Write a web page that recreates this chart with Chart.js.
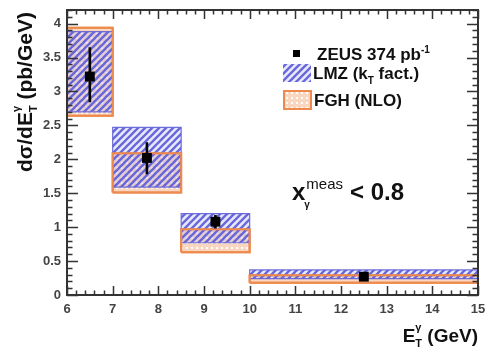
<!DOCTYPE html>
<html>
<head>
<meta charset="utf-8">
<script src="https://cdn.jsdelivr.net/npm/chart.js@4/dist/chart.umd.min.js"></script>
<style>
  html, body { margin: 0; padding: 0; background: #ffffff; }
  #wrap { width: 487px; height: 350px; }
</style>
</head>
<body>
<div id="wrap"><canvas id="c" width="487" height="350"></canvas></div>
<script>
// E_T^gamma bins (GeV)
const binLo = [6, 7, 8.5, 10];
const binHi = [7, 8.5, 10, 15];

// ZEUS measurement: bin centre, value and total error band (pb/GeV)
const zeusX = [6.5, 7.75, 9.25, 12.5];
const zeusY = [3.22, 2.02, 1.08, 0.27];
const zeusErrLo = [2.84, 1.78, 0.98, 0.24];
const zeusErrHi = [3.65, 2.25, 1.18, 0.30];

// LMZ (kT factorisation) prediction band
const lmzLo = [2.70, 1.59, 0.77, 0.24];
const lmzHi = [3.88, 2.47, 1.20, 0.37];

// FGH (NLO) prediction band
const fghLo = [2.64, 1.51, 0.63, 0.18];
const fghHi = [3.94, 2.09, 0.97, 0.29];

// Axis tick labels
const xTicks = [6, 7, 8, 9, 10, 11, 12, 13, 14, 15];
const yTicks = [0, 0.5, 1, 1.5, 2, 2.5, 3, 3.5, 4];
const xMinorStep = 0.2;
const yMinorStep = 0.1;

const FONT = '"Liberation Sans", Arial, Helvetica, sans-serif';
const ORANGE = '#ee8a4e';
const BLUE = 'rgba(92, 92, 216, 0.92)';

// Hatch pattern for the LMZ band: blue "////" stripes on a faint lavender tint
function makeHatch() {
  const s = 7;
  const c = document.createElement('canvas');
  c.width = s; c.height = s;
  const g = c.getContext('2d');
  g.fillStyle = 'rgba(180, 180, 245, 0.30)';
  g.fillRect(0, 0, s, s);
  g.strokeStyle = BLUE;
  g.lineWidth = 2.3;
  g.lineCap = 'square';
  g.beginPath();
  g.moveTo(-1, s + 1); g.lineTo(s + 1, -1);
  g.moveTo(-1, 1); g.lineTo(1, -1);
  g.moveTo(s - 1, s + 1); g.lineTo(s + 1, s - 1);
  g.stroke();
  return g.createPattern(c, 'repeat');
}

// Dotted pattern for the FGH band: white dots on peach
function makeDots() {
  const s = 5;
  const c = document.createElement('canvas');
  c.width = s; c.height = s;
  const g = c.getContext('2d');
  g.fillStyle = '#f8d6c0';
  g.fillRect(0, 0, s, s);
  g.fillStyle = 'rgba(255, 255, 255, 0.95)';
  g.fillRect(1, 2, 2, 2);
  return g.createPattern(c, 'repeat');
}

const hatch = makeHatch();
const dots = makeDots();

function boxPoints(i, lo, hi) {
  return [
    { x: binLo[i], y: lo[i] },
    { x: binHi[i], y: lo[i] },
    { x: binHi[i], y: hi[i] },
    { x: binLo[i], y: hi[i] },
    { x: binLo[i], y: lo[i] }
  ];
}

const datasets = [];
binLo.forEach((_, i) => {
  // FGH band fill
  datasets.push({
    type: 'line', data: boxPoints(i, fghLo, fghHi), order: 5,
    showLine: true, fill: 'shape', backgroundColor: dots,
    borderColor: ORANGE, borderWidth: 2, pointRadius: 0, tension: 0
  });
  // LMZ hatched band
  datasets.push({
    type: 'line', data: boxPoints(i, lmzLo, lmzHi), order: 4,
    showLine: true, fill: 'shape', backgroundColor: hatch,
    borderColor: 'rgba(96, 96, 214, 0.9)', borderWidth: 1.2, pointRadius: 0, tension: 0
  });
  // FGH outline on top of the hatch
  datasets.push({
    type: 'line', data: boxPoints(i, fghLo, fghHi), order: 3,
    showLine: true, fill: false,
    borderColor: ORANGE, borderWidth: 2, pointRadius: 0, tension: 0
  });
});

// Vertical error bars, one segment per point, separated by gaps
const errData = [];
zeusX.forEach((x, i) => {
  errData.push({ x: x, y: zeusErrLo[i] }, { x: x, y: zeusErrHi[i] }, { x: x, y: null });
});
datasets.push({
  type: 'line', data: errData, order: 2, showLine: true, spanGaps: false,
  fill: false, borderColor: '#000', borderWidth: 2.6, pointRadius: 0
});

// ZEUS points
datasets.push({
  type: 'scatter', data: zeusX.map((x, i) => ({ x: x, y: zeusY[i] })), order: 1,
  pointStyle: 'rect', pointRadius: 7, pointBackgroundColor: '#000',
  pointBorderWidth: 0, showLine: false
});

// Draws a run of text pieces; returns x after the last piece
function runs(ctx, x, y, pieces) {
  pieces.forEach(p => {
    ctx.font = p.font;
    ctx.fillText(p.text, x, y + (p.dy || 0));
    x += ctx.measureText(p.text).width;
  });
  return x;
}
function widthOf(ctx, text, font) { ctx.font = font; return ctx.measureText(text).width; }

const decorations = {
  id: 'decorations',
  afterDraw(chart) {
    const ctx = chart.ctx;
    const xs = chart.scales.x, ys = chart.scales.y;
    const a = chart.chartArea;
    ctx.save();

    // Frame
    ctx.strokeStyle = '#333';
    ctx.lineWidth = 2;
    ctx.strokeRect(a.left, a.top, a.right - a.left, a.bottom - a.top);

    // Inward tick marks on all four sides
    ctx.lineWidth = 1.5;
    ctx.beginPath();
    const xMin = xTicks[0], xMax = xTicks[xTicks.length - 1];
    for (let k = 0; xMin + k * xMinorStep <= xMax + 1e-9; k++) {
      const v = xMin + k * xMinorStep;
      const major = Math.abs(v - Math.round(v)) < 1e-6;
      const len = major ? 9 : 4.5;
      const px = Math.round(xs.getPixelForValue(v)) + 0.5;
      ctx.moveTo(px, a.bottom); ctx.lineTo(px, a.bottom - len);
      ctx.moveTo(px, a.top); ctx.lineTo(px, a.top + len);
    }
    const yMin = 0, yMax = ys.max;
    for (let k = 0; yMin + k * yMinorStep <= yMax + 1e-9; k++) {
      const v = yMin + k * yMinorStep;
      const major = Math.abs(v * 2 - Math.round(v * 2)) < 1e-6;
      const len = major ? 11 : 5.5;
      const py = Math.round(ys.getPixelForValue(v)) + 0.5;
      ctx.moveTo(a.left, py); ctx.lineTo(a.left + len, py);
      ctx.moveTo(a.right, py); ctx.lineTo(a.right - len, py);
    }
    ctx.stroke();

    ctx.fillStyle = '#111';
    ctx.textBaseline = 'alphabetic';
    ctx.textAlign = 'left';

    // Legend
    const lf = 'bold 17px ' + FONT;
    const lfs = 'bold 10px ' + FONT;
    ctx.fillStyle = '#000';
    ctx.fillRect(293, 50, 7, 7);
    ctx.fillStyle = '#111';
    runs(ctx, 317, 60, [
      { text: 'ZEUS 374 pb', font: lf },
      { text: '-1', font: lfs, dy: -7 }
    ]);

    ctx.fillStyle = '#fff';
    ctx.fillRect(283, 64, 28, 18);
    ctx.fillStyle = hatch;
    ctx.fillRect(283, 64, 28, 18);
    ctx.fillStyle = '#111';
    runs(ctx, 313, 79, [
      { text: 'LMZ (k', font: lf },
      { text: 'T', font: lfs, dy: 5 },
      { text: ' fact.)', font: lf }
    ]);

    ctx.fillStyle = dots;
    ctx.fillRect(284, 91, 27, 18);
    ctx.strokeStyle = ORANGE;
    ctx.lineWidth = 2;
    ctx.strokeRect(284, 91, 27, 18);
    ctx.fillStyle = '#111';
    runs(ctx, 314, 106, [{ text: 'FGH (NLO)', font: lf }]);

    // Selection label
    const bf = 'bold 24px ' + FONT;
    ctx.font = bf;
    ctx.fillText('x', 292, 200);
    const xw = ctx.measureText('x').width;
    ctx.font = 'bold 10px ' + FONT;
    ctx.fillText('\u03b3', 292 + xw - 1, 208);
    ctx.font = '15px ' + FONT;
    ctx.fillText('meas', 292 + xw + 1, 189);
    ctx.font = bf;
    ctx.fillText('< 0.8', 350, 200);

    // X axis title, right aligned at the plot edge
    const tf = 'bold 19px ' + FONT;
    const sf = 'bold 11px ' + FONT;
    const wE = widthOf(ctx, 'E', tf);
    const wS = Math.max(widthOf(ctx, 'T', sf), widthOf(ctx, '\u03b3', sf));
    const wG = widthOf(ctx, ' (GeV)', tf);
    let x0 = a.right - (wE + wS + wG);
    ctx.font = tf; ctx.fillText('E', x0, 342);
    ctx.font = sf; ctx.fillText('T', x0 + wE, 347); ctx.fillText('\u03b3', x0 + wE, 331);
    ctx.font = tf; ctx.fillText(' (GeV)', x0 + wE + wS, 342);

    // Y axis title, rotated
    const yf = 'bold 21px ' + FONT;
    ctx.save();
    ctx.translate(32, 92);
    ctx.rotate(-Math.PI / 2);
    const w1 = widthOf(ctx, 'd\u03c3/dE', yf);
    const w3 = widthOf(ctx, ' (pb/GeV)', yf);
    let s0 = -(w1 + wS + w3) / 2;
    ctx.font = yf; ctx.fillText('d\u03c3/dE', s0, 0);
    ctx.font = sf; ctx.fillText('T', s0 + w1, 5); ctx.fillText('\u03b3', s0 + w1, -12);
    ctx.font = yf; ctx.fillText(' (pb/GeV)', s0 + w1 + wS, 0);
    ctx.restore();

    ctx.restore();
  }
};

new Chart(document.getElementById('c'), {
  type: 'scatter',
  data: { datasets: datasets },
  options: {
    responsive: false,
    animation: false,
    devicePixelRatio: 1,
    layout: { padding: { top: 10, right: 9, left: 0, bottom: 0 }, autoPadding: false },
    plugins: { legend: { display: false }, tooltip: { enabled: false } },
    scales: {
      x: {
        type: 'linear', min: 6, max: 15,
        grid: { display: false, drawTicks: false },
        border: { display: false },
        afterBuildTicks: s => { s.ticks = xTicks.map(v => ({ value: v })); },
        afterFit: s => { s.height = 55; s.paddingLeft = 0; s.paddingRight = 0; },
        ticks: {
          padding: 7, color: '#444',
          font: { family: FONT, size: 13, weight: 'bold' },
          maxRotation: 0, autoSkip: false,
          callback: v => String(v)
        }
      },
      y: {
        type: 'linear', min: 0, max: 4.2,
        grid: { display: false, drawTicks: false },
        border: { display: false },
        afterBuildTicks: s => { s.ticks = yTicks.map(v => ({ value: v })); },
        afterFit: s => { s.width = 67; s.paddingTop = 0; s.paddingBottom = 0; },
        ticks: {
          padding: 6, color: '#444',
          font: { family: FONT, size: 13, weight: 'bold' },
          autoSkip: false,
          callback: v => String(v)
        }
      }
    }
  },
  plugins: [decorations]
});
</script>
</body>
</html>
